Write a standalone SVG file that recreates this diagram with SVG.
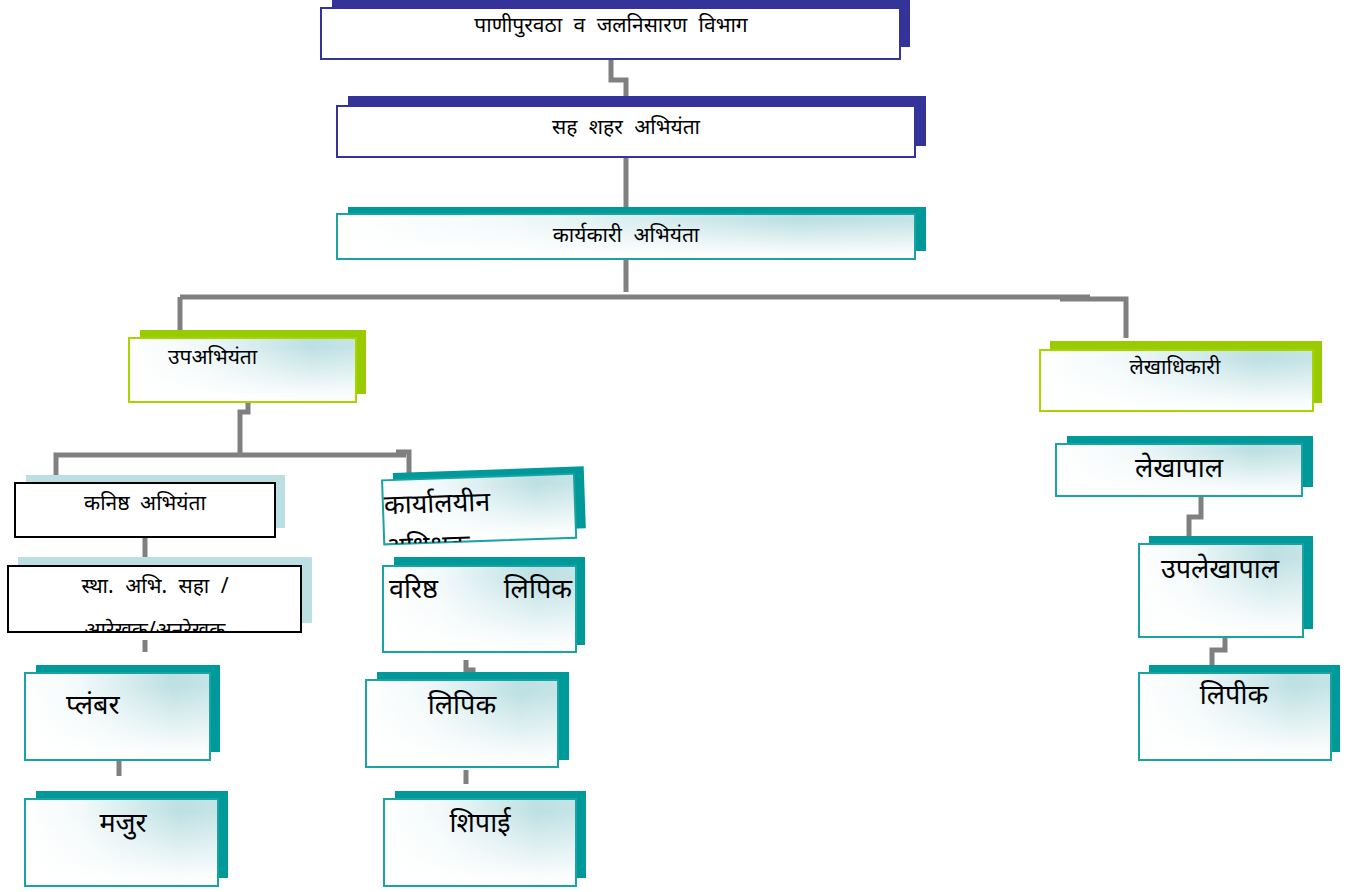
<svg xmlns="http://www.w3.org/2000/svg" width="1363" height="892" viewBox="0 0 1363 892">
<defs>
<linearGradient id="gh" x1="0" y1="0" x2="1" y2="0">
<stop offset="0" stop-color="#FFFFFF"/>
<stop offset="0.3" stop-color="#F2F9FA"/>
<stop offset="0.8" stop-color="#BDE0E3"/>
<stop offset="1" stop-color="#C6E4E7"/>
</linearGradient>
<linearGradient id="gv" x1="0" y1="0" x2="0" y2="1">
<stop offset="0.15" stop-color="#FFFFFF" stop-opacity="0"/>
<stop offset="0.9" stop-color="#FFFFFF" stop-opacity="0.95"/>
</linearGradient>
<clipPath id="c1"><rect x="8" y="566" width="293" height="66"/></clipPath>
<clipPath id="c2"><rect x="383" y="477" width="192" height="64"/></clipPath>
</defs>
<style>
.blue{fill:#333399}
.teal{fill:#009999}
.green{fill:#99CC00}
.lb{fill:#BBDFE3}
.fw{fill:#FFFFFF;stroke:#333399;stroke-width:2}
.gh{fill:url(#gh)}
.gv{fill:url(#gv)}
.st{fill:none;stroke:#19A3A3;stroke-width:2}
.sg{fill:none;stroke:#A8D400;stroke-width:2}
.fk{fill:#FFFFFF;stroke:#000000;stroke-width:2}
text{font-family:"Noto Sans","Liberation Sans",sans-serif;fill:#000000}
.s{font-size:21px}
.m{font-size:27px}
.con{fill:none;stroke:#808080;stroke-width:5}
</style>
<g id="connectors">
<polyline class="con" points="611,59 611,80 626,80 626,96"/>
<line class="con" x1="626" y1="157" x2="626" y2="207"/>
<polyline class="con" points="626,259 626,292"/>
<line class="con" x1="180" y1="297" x2="1090" y2="297"/>
<polyline class="con" points="1060,299 1126,299 1126,338"/>
<polyline class="con" points="180,297 180,330"/>
<polyline class="con" points="248,400 248,412 240,412 240,455"/>
<polyline class="con" points="56,475 56,455 406,455"/>
<polyline class="con" points="396,452 409,452 409,492"/>
<line class="con" x1="405" y1="476" x2="426" y2="476"/>
<line class="con" x1="145" y1="537" x2="145" y2="557"/>
<line class="con" x1="145" y1="640" x2="145" y2="652"/>
<line class="con" x1="119" y1="760" x2="119" y2="776"/>
<polyline class="con" points="466,660 466,670 473,670 473,680"/>
<line class="con" x1="466" y1="770" x2="466" y2="784"/>
<polyline class="con" points="1201,496 1201,517 1189,517 1189,536"/>
<polyline class="con" points="1225,632 1225,650 1212,650 1212,668"/>
</g>
<g id="n1">
<rect class="blue" x="332" y="0" width="578" height="47"/>
<rect class="fw" x="321" y="8" width="579" height="51"/>
<text class="s" x="611" y="32" text-anchor="middle" word-spacing="6">पाणीपुरवठा व जलनिसारण विभाग</text>
</g>
<g id="n2">
<rect class="blue" x="348" y="96" width="578" height="50"/>
<rect class="fw" x="337" y="106" width="578" height="51"/>
<text class="s" x="626" y="134" text-anchor="middle" word-spacing="6">सह शहर अभियंता</text>
</g>
<g id="n3">
<rect class="teal" x="348" y="207" width="578" height="44"/>
<rect class="gh" x="337" y="214" width="578" height="45"/>
<rect class="gv" x="337" y="214" width="578" height="45"/>
<rect class="st" x="337" y="214" width="578" height="45"/>
<text class="s" x="626" y="242" text-anchor="middle" word-spacing="6">कार्यकारी अभियंता</text>
</g>
<g id="n4">
<rect class="green" x="140" y="330" width="226" height="64"/>
<rect class="gh" x="129" y="338" width="227" height="64"/>
<rect class="gv" x="129" y="338" width="227" height="64"/>
<rect class="sg" x="129" y="338" width="227" height="64"/>
<text class="s" x="168" y="364">उपअभियंता</text>
</g>
<g id="n5">
<rect class="green" x="1050" y="341" width="272" height="62"/>
<rect class="gh" x="1040" y="350" width="273" height="61"/>
<rect class="gv" x="1040" y="350" width="273" height="61"/>
<rect class="sg" x="1040" y="350" width="273" height="61"/>
<text class="s" x="1175" y="374" text-anchor="middle">लेखाधिकारी</text>
</g>
<g id="n6">
<rect class="lb" x="26" y="475" width="259" height="53"/>
<rect class="fk" x="15" y="483" width="260" height="54"/>
<text class="s" x="145" y="510" text-anchor="middle" word-spacing="5">कनिष्ठ अभियंता</text>
</g>
<g id="n7">
<rect class="lb" x="18" y="557" width="294" height="66"/>
<rect class="fk" x="8" y="566" width="293" height="66"/>
<g clip-path="url(#c1)">
<text class="s" x="155" y="593" text-anchor="middle" word-spacing="6">स्था. अभि. सहा /</text>
<text class="s" x="155" y="637" text-anchor="middle">आरेखक/अनुरेखक</text>
</g>
</g>
<g id="n8">
<rect class="teal" x="36" y="665" width="184" height="87"/>
<rect class="gh" x="25" y="673" width="185" height="87"/>
<rect class="gv" x="25" y="673" width="185" height="87"/>
<rect class="st" x="25" y="673" width="185" height="87"/>
<text class="m" x="66" y="714">प्लंबर</text>
</g>
<g id="n9">
<rect class="teal" x="36" y="791" width="192" height="87"/>
<rect class="gh" x="25" y="799" width="193" height="87"/>
<rect class="gv" x="25" y="799" width="193" height="87"/>
<rect class="st" x="25" y="799" width="193" height="87"/>
<text class="m" x="123" y="832" text-anchor="middle">मजुर</text>
</g>
<g id="n10" transform="rotate(-2 480 506)">
<rect class="teal" x="394" y="470" width="191" height="62"/>
<rect class="gh" x="383" y="477" width="192" height="64"/>
<rect class="gv" x="383" y="477" width="192" height="64"/>
<rect class="st" x="383" y="477" width="192" height="64"/>
<g clip-path="url(#c2)">
<text class="m" x="384" y="511">कार्यालयीन</text>
<text class="m" x="384" y="553">अधिक्षक</text>
</g>
</g>
<g id="n11">
<rect class="teal" x="394" y="557" width="191" height="88"/>
<rect class="gh" x="383" y="566" width="193" height="86"/>
<rect class="gv" x="383" y="566" width="193" height="86"/>
<rect class="st" x="383" y="566" width="193" height="86"/>
<text class="m" x="389" y="598">वरिष्ठ</text>
<text class="m" x="572" y="598" text-anchor="end">लिपिक</text>
</g>
<g id="n12">
<rect class="teal" x="377" y="672" width="192" height="88"/>
<rect class="gh" x="366" y="680" width="192" height="87"/>
<rect class="gv" x="366" y="680" width="192" height="87"/>
<rect class="st" x="366" y="680" width="192" height="87"/>
<text class="m" x="462" y="714" text-anchor="middle">लिपिक</text>
</g>
<g id="n13">
<rect class="teal" x="395" y="791" width="191" height="87"/>
<rect class="gh" x="384" y="799" width="192" height="87"/>
<rect class="gv" x="384" y="799" width="192" height="87"/>
<rect class="st" x="384" y="799" width="192" height="87"/>
<text class="m" x="480" y="832" text-anchor="middle">शिपाई</text>
</g>
<g id="n14">
<rect class="teal" x="1067" y="436" width="246" height="51"/>
<rect class="gh" x="1056" y="444" width="246" height="52"/>
<rect class="gv" x="1056" y="444" width="246" height="52"/>
<rect class="st" x="1056" y="444" width="246" height="52"/>
<text class="m" x="1179" y="477" text-anchor="middle">लेखापाल</text>
</g>
<g id="n15">
<rect class="teal" x="1149" y="536" width="164" height="93"/>
<rect class="gh" x="1139" y="544" width="164" height="93"/>
<rect class="gv" x="1139" y="544" width="164" height="93"/>
<rect class="st" x="1139" y="544" width="164" height="93"/>
<text class="m" x="1220" y="578" text-anchor="middle">उपलेखापाल</text>
</g>
<g id="n16">
<rect class="teal" x="1149" y="665" width="191" height="87"/>
<rect class="gh" x="1139" y="673" width="192" height="87"/>
<rect class="gv" x="1139" y="673" width="192" height="87"/>
<rect class="st" x="1139" y="673" width="192" height="87"/>
<text class="m" x="1234" y="704" text-anchor="middle">लिपीक</text>
</g>
</svg>
